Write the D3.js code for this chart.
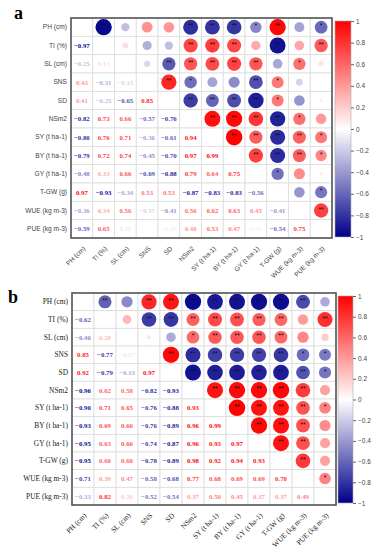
<!DOCTYPE html>
<html>
<head>
<meta charset="utf-8">
<script src="https://cdn.jsdelivr.net/npm/d3@7"></script>
<style>
  body { margin: 0; background: #fff; }
  svg { display: block; }
</style>
</head>
<body>
<div id="chart"></div>
<script>
const variables = ["PH (cm)", "TI (%)", "SL (cm)", "SNS", "SD", "NSm2", "SY (t ha-1)", "BY (t ha-1)", "GY (t ha-1)", "T-GW (g)", "WUE (kg m-3)", "PUE (kg m-3)"];

// lower triangle, row i holds correlations with columns 0..i-1
const corrA = [
  [],
  [-0.97],
  [-0.25, 0.13],
  [0.43, -0.31, -0.15],
  [0.41, -0.25, -0.65, 0.85],
  [-0.82, 0.73, 0.66, -0.57, -0.76],
  [-0.80, 0.76, 0.71, -0.36, -0.61, 0.94],
  [-0.79, 0.72, 0.74, -0.45, -0.70, 0.97, 0.99],
  [-0.48, 0.33, 0.66, -0.69, -0.88, 0.79, 0.64, 0.75],
  [0.97, -0.93, -0.34, 0.53, 0.53, -0.87, -0.83, -0.83, -0.56],
  [-0.36, 0.34, 0.56, -0.17, -0.41, 0.56, 0.62, 0.63, 0.45, -0.41],
  [-0.59, 0.65, 0.11, 0.02, -0.05, 0.40, 0.53, 0.47, 0.06, -0.54, 0.75]
];
const sigA = [
  [],
  ["**"],
  ["", ""],
  ["", "", ""],
  ["", "", "**", "**"],
  ["**", "**", "**", "*", "**"],
  ["**", "**", "**", "", "**", "**"],
  ["**", "**", "**", "", "**", "**", "**"],
  ["*", "", "**", "**", "**", "**", "**", "**"],
  ["**", "**", "", "*", "*", "**", "**", "**", "*"],
  ["", "", "*", "", "", "*", "**", "**", "", ""],
  ["*", "**", "", "", "", "", "*", "*", "", "*", "**"]
];

const corrB = [
  [],
  [-0.62],
  [-0.46, 0.28],
  [0.85, -0.77, -0.07],
  [0.92, -0.79, -0.33, 0.97],
  [-0.96, 0.62, 0.58, -0.82, -0.93],
  [-0.90, 0.71, 0.65, -0.76, -0.88, 0.93],
  [-0.93, 0.69, 0.66, -0.76, -0.89, 0.96, 0.99],
  [-0.95, 0.63, 0.66, -0.74, -0.87, 0.96, 0.93, 0.97],
  [-0.95, 0.60, 0.60, -0.78, -0.89, 0.98, 0.92, 0.94, 0.93],
  [-0.71, 0.39, 0.47, -0.58, -0.68, 0.77, 0.68, 0.69, 0.69, 0.78],
  [-0.33, 0.82, 0.20, -0.52, -0.54, 0.37, 0.50, 0.45, 0.37, 0.37, 0.49]
];
const sigB = [
  [],
  ["**"],
  ["", ""],
  ["**", "**", ""],
  ["**", "**", "", "**"],
  ["**", "**", "*", "**", "**"],
  ["**", "**", "**", "**", "**", "**"],
  ["**", "**", "**", "**", "**", "**", "**"],
  ["**", "**", "**", "**", "**", "**", "**", "**"],
  ["**", "**", "**", "**", "**", "**", "**", "**", "**"],
  ["**", "", "", "*", "**", "**", "**", "**", "**", "**"],
  ["", "**", "", "*", "*", "", "*", "", "", "", "*"]
];

const legendTicks = [-1, -0.8, -0.6, -0.4, -0.2, 0, 0.2, 0.4, 0.6, 0.8, 1];

const width = 378;
const height = 550;

const svg = d3.select("#chart").append("svg").attr("width", width).attr("height", height);

const color = d3.scaleLinear().domain([-1, 0, 1]).range(["#00008B", "#ffffff", "#ff0000"]);

const defs = svg.append("defs");
const grad = defs.append("linearGradient").attr("id", "cbar").attr("x1", 0).attr("y1", 1).attr("x2", 0).attr("y2", 0);
grad.selectAll("stop")
  .data(d3.range(0, 1.0001, 0.05))
  .enter()
  .append("stop")
  .attr("offset", (d) => d)
  .attr("stop-color", (d) => color(d * 2 - 1));

function drawPanel(p) {
  const g = svg.append("g");
  const x = d3.scaleBand().domain(variables).range([p.x0, p.x1]);
  const y = d3.scaleBand().domain(variables).range([p.y0, p.y1]);
  const cw = x.bandwidth();
  const ch = y.bandwidth();

  // full matrix cells
  const cells = [];
  variables.forEach((rv, i) => {
    variables.forEach((cv, j) => {
      let v = null, s = "";
      if (j < i) { v = p.corr[i][j]; s = p.sig[i][j]; }
      else if (j > i) { v = p.corr[j][i]; s = p.sig[j][i]; }
      cells.push({ i, j, row: rv, col: cv, v, s });
    });
  });

  g.selectAll("rect.cell")
    .data(cells)
    .enter()
    .append("rect")
    .attr("class", "cell")
    .attr("x", (d) => x(d.col))
    .attr("y", (d) => y(d.row))
    .attr("width", cw)
    .attr("height", ch)
    .attr("fill", "#fff")
    .attr("stroke", "#dcdcdc")
    .attr("stroke-width", 0.8);

  const upper = cells.filter((d) => d.j > d.i);
  const lower = cells.filter((d) => d.j < d.i);
  const rMax = Math.min(cw, ch) * p.rScale;

  g.selectAll("circle.corr")
    .data(upper)
    .enter()
    .append("circle")
    .attr("cx", (d) => x(d.col) + cw / 2)
    .attr("cy", (d) => y(d.row) + ch / 2)
    .attr("r", (d) => rMax * Math.sqrt(Math.abs(d.v)))
    .attr("fill", (d) => color(d.v));

  g.selectAll("text.star")
    .data(upper.filter((d) => d.s))
    .enter()
    .append("text")
    .attr("x", (d) => x(d.col) + cw / 2)
    .attr("y", (d) => y(d.row) + ch / 2 + 1)
    .attr("text-anchor", "middle")
    .attr("font-family", "Liberation Sans, Arial, sans-serif")
    .attr("font-size", 7)
    .attr("fill", "#111")
    .text((d) => d.s);

  g.selectAll("text.num")
    .data(lower)
    .enter()
    .append("text")
    .attr("x", (d) => x(d.col) + cw / 2)
    .attr("y", (d) => y(d.row) + ch / 2)
    .attr("dy", "0.35em")
    .attr("text-anchor", "middle")
    .attr("font-family", "Liberation Serif, Times New Roman, serif")
    .attr("font-weight", "bold")
    .attr("font-size", 6.8)
    .attr("fill", (d) => color(d.v))
    .text((d) => d3.format(".2f")(d.v));

  g.append("rect")
    .attr("x", p.x0)
    .attr("y", p.y0)
    .attr("width", p.x1 - p.x0)
    .attr("height", p.y1 - p.y0)
    .attr("fill", "none")
    .attr("stroke", "#555")
    .attr("stroke-width", 1.6);

  // row labels
  g.selectAll("text.rlab")
    .data(variables)
    .enter()
    .append("text")
    .attr("x", p.x0 - 4)
    .attr("y", (d) => y(d) + ch / 2)
    .attr("dy", "0.35em")
    .attr("text-anchor", "end")
    .attr("font-family", p.labelFont)
    .attr("font-size", p.labelSize)
    .attr("fill", p.labelColor)
    .text((d) => d);

  // column labels
  g.selectAll("text.clab")
    .data(variables)
    .enter()
    .append("text")
    .attr("transform", (d) => `translate(${x(d) + cw / 2 + 4},${p.y1 + 11}) rotate(-45)`)
    .attr("text-anchor", "end")
    .attr("font-family", p.labelFont)
    .attr("font-size", p.labelSize)
    .attr("fill", p.labelColor)
    .text((d) => d);

  // panel letter
  g.append("text")
    .attr("x", p.letterX)
    .attr("y", p.letterY)
    .attr("font-family", "Liberation Serif, Times New Roman, serif")
    .attr("font-weight", "bold")
    .attr("font-size", 18)
    .attr("fill", "#000")
    .text(p.letter);

  // colour bar
  g.append("rect")
    .attr("x", p.cbX)
    .attr("y", p.cbY0)
    .attr("width", p.cbW)
    .attr("height", p.cbY1 - p.cbY0)
    .attr("fill", "url(#cbar)")
    .attr("stroke", "#aaa")
    .attr("stroke-width", 0.6);

  const cbScale = d3.scaleLinear().domain([-1, 1]).range([p.cbY1, p.cbY0]);
  const axis = g.append("g")
    .attr("transform", `translate(${p.cbX + p.cbW},0)`)
    .call(d3.axisRight(cbScale).tickValues(legendTicks).tickSize(3).tickPadding(2).tickFormat(d3.format("")));
  axis.select(".domain").remove();
  axis.selectAll("line").attr("stroke", "#666");
  axis.selectAll("text")
    .attr("font-family", "Liberation Sans, Arial, sans-serif")
    .attr("font-size", 6.5)
    .attr("fill", "#444");
}

drawPanel({
  corr: corrA, sig: sigA,
  x0: 71, x1: 332, y0: 18, y1: 238,
  rScale: 0.45,
  labelFont: "Liberation Sans, Arial, sans-serif", labelSize: 6.6, labelColor: "#444",
  letter: "a", letterX: 14, letterY: 19,
  cbX: 335, cbW: 16, cbY0: 21, cbY1: 237
});

drawPanel({
  corr: corrB, sig: sigB,
  x0: 72, x1: 336, y0: 293, y1: 505,
  rScale: 0.47,
  labelFont: "Liberation Serif, Times New Roman, serif", labelSize: 7.4, labelColor: "#222",
  letter: "b", letterX: 8, letterY: 303,
  cbX: 338, cbW: 15, cbY0: 296, cbY1: 503
});
</script>
</body>
</html>
